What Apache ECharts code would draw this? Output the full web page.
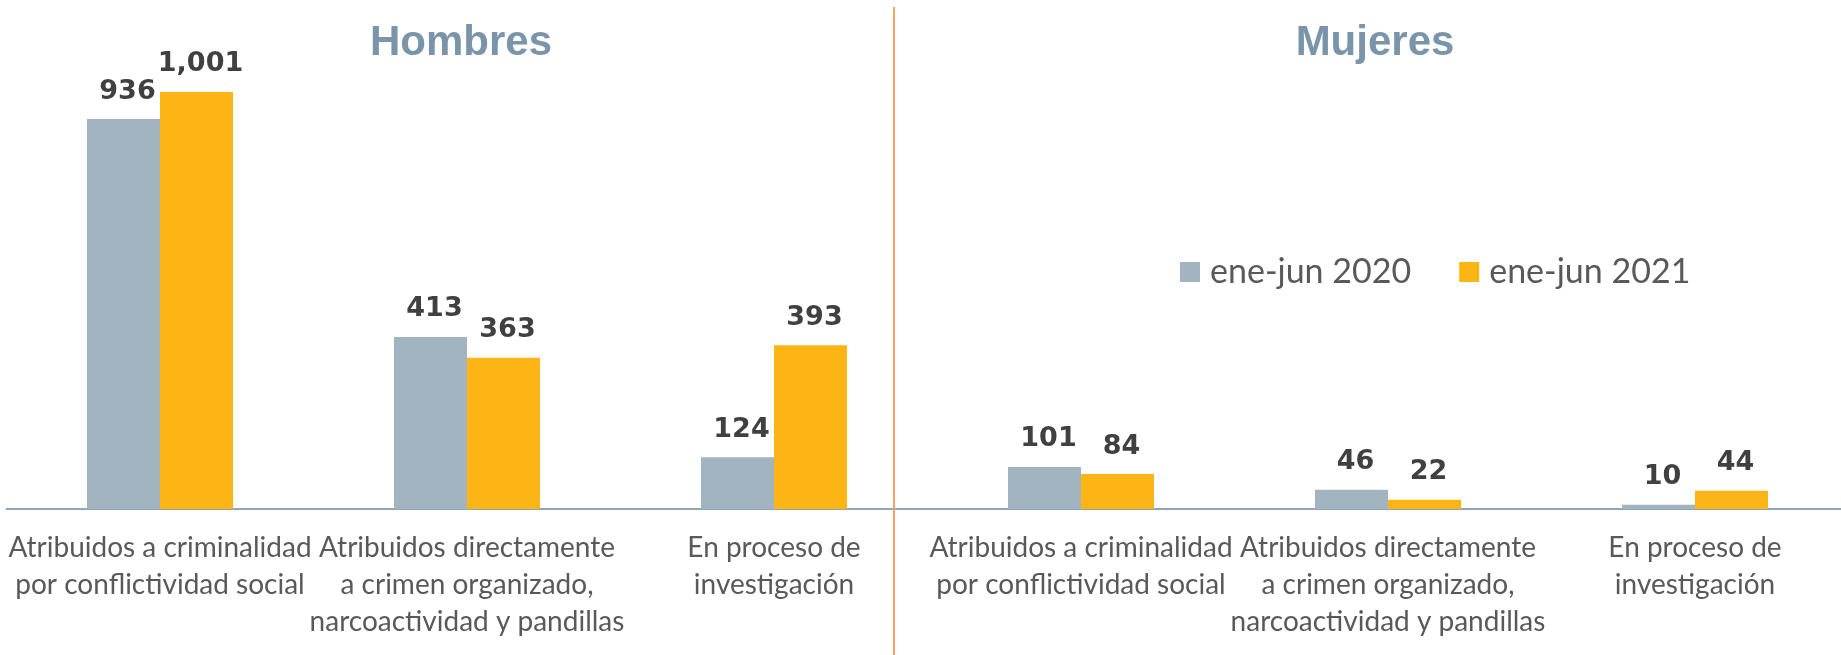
<!DOCTYPE html>
<html>
<head>
<meta charset="utf-8">
<script src="https://cdn.jsdelivr.net/npm/echarts@6/dist/echarts.min.js"></script>
<style>
html,body{margin:0;padding:0;background:#fff;overflow:hidden;width:1841px;height:655px;}
#chart{width:1860px;height:655px;}
</style>
</head>
<body>
<div id="chart"></div>
<script>
const categories = [
  'Atribuidos a criminalidad\npor conflictividad social',
  'Atribuidos directamente\na crimen organizado,\nnarcoactividad y pandillas',
  'En proceso de\ninvestigación',
  'Atribuidos a criminalidad\npor conflictividad social',
  'Atribuidos directamente\na crimen organizado,\nnarcoactividad y pandillas',
  'En proceso de\ninvestigación'
];
const seriesNames = ['ene-jun 2020', 'ene-jun 2021'];
const values2020 = [936, 413, 124, 101, 46, 10];
const values2021 = [1001, 363, 393, 84, 22, 44];
const panelTitles = ['Hombres', 'Mujeres'];

const chart = echarts.init(document.getElementById('chart'), null, {renderer: 'canvas'});
const labelCfg = {
  show: true,
  position: 'top',
  distance: 14,
  offset: [4, 0],
  color: '#404040',
  fontFamily: 'DejaVu Sans',
  fontWeight: 'bold',
  fontSize: 27,
  formatter: p => p.value.toLocaleString('en-US')
};
chart.setOption({
  animation: false,
  backgroundColor: '#ffffff',
  legend: {
    data: seriesNames,
    left: 1180,
    top: 255,
    padding: 0,
    icon: 'rect',
    itemWidth: 20,
    itemHeight: 20,
    itemGap: 48,
    textStyle: {fontFamily: 'Lato', fontSize: 34, color: '#595959', padding: [0, 0, 0, 5]}
  },
  grid: {left: 6.5, right: 11.5, top: 9, bottom: 146, containLabel: false},
  xAxis: {
    type: 'category',
    data: categories,
    axisLine: {lineStyle: {color: '#8fa5b8', width: 2}},
    axisTick: {show: false},
    axisLabel: {
      interval: 0,
      margin: 20,
      fontFamily: 'Lato',
      fontSize: 28,
      lineHeight: 37,
      color: '#595959'
    }
  },
  yAxis: {type: 'value', min: 0, max: 1200, show: false, splitLine: {show: false}},
  series: [
    {name: seriesNames[0], type: 'bar', data: values2020, barWidth: 73, barGap: '0%',
     itemStyle: {color: '#a3b4c1'}, label: labelCfg},
    {name: seriesNames[1], type: 'bar', data: values2021, barWidth: 73,
     itemStyle: {color: '#fdb515'}, label: labelCfg}
  ],
  graphic: [
    {type: 'line', shape: {x1: 894, y1: 7, x2: 894, y2: 655}, style: {stroke: '#f4a460', lineWidth: 2}, z: 10},
    {type: 'text', x: 461, y: 43, style: {text: panelTitles[0], align: 'center', verticalAlign: 'middle',
      font: 'bold 42px "Liberation Sans", Arial, sans-serif', fill: '#7a95aa'}},
    {type: 'text', x: 1375, y: 43, style: {text: panelTitles[1], align: 'center', verticalAlign: 'middle',
      font: 'bold 42px "Liberation Sans", Arial, sans-serif', fill: '#7a95aa'}}
  ]
});
</script>
</body>
</html>
